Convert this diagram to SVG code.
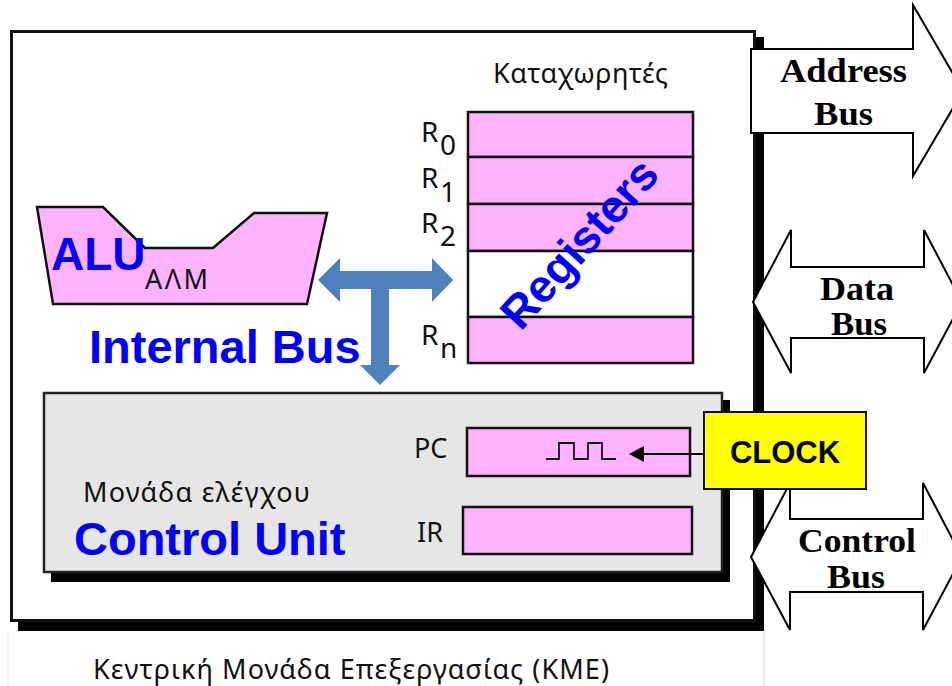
<svg xmlns="http://www.w3.org/2000/svg" width="952" height="686" viewBox="0 0 952 686">
<style>
.sh{fill:#000}
.pink{fill:#ffb3ff;stroke:#111;stroke-width:2.5}
.gr{font-family:"Noto Sans","Open Sans","DejaVu Sans",sans-serif;fill:#111}
.blue{font-family:"Liberation Sans",Arial,sans-serif;font-weight:bold;fill:#0000ff}
.serif{font-family:"Liberation Serif","Times New Roman",serif;font-weight:bold;fill:#000;font-size:33px}
.busarrow{fill:#fff;stroke:#000;stroke-width:2}
</style>
<rect x="0" y="0" width="952" height="686" fill="#fff"/>
<line x1="764" y1="630" x2="764" y2="686" stroke="#cfcfcf" stroke-width="1"/>
<line x1="8" y1="632" x2="8" y2="686" stroke="#ececec" stroke-width="1"/>

<g id="cpu-frame">
  <rect class="sh" x="18" y="37" width="746" height="594"/>
  <rect x="11.5" y="31.5" width="743" height="589" fill="#fff" stroke="#111" stroke-width="3"/>
</g>

<g id="alu">
  <polygon class="pink" points="37,207 103,207 145,248 213,248 254,213 327,213 307,304 53,304"/>
  <text class="blue" x="51" y="270" font-size="46">ALU</text>
  <text class="gr" x="145" y="289" font-size="27" textLength="63">ΑΛΜ</text>
</g>

<g id="registers">
  <text class="gr" x="493" y="83" font-size="27" textLength="175">Καταχωρητές</text>
  <rect class="pink" x="468" y="112" width="225" height="45"/>
  <rect class="pink" x="468" y="157" width="225" height="47"/>
  <rect class="pink" x="468" y="204" width="225" height="47"/>
  <rect x="468" y="251" width="225" height="66" fill="#fff" stroke="#111" stroke-width="2.5"/>
  <rect class="pink" x="468" y="317" width="225" height="46"/>
  <g class="gr" font-size="28">
    <text x="421" y="142">R</text><text x="440" y="155">0</text>
    <text x="421" y="188">R</text><text x="440" y="202">1</text>
    <text x="421" y="233">R</text><text x="440" y="246">2</text>
    <text x="421" y="345">R</text><text x="440" y="358">n</text>
  </g>
  <text class="blue" x="591" y="254" font-size="46" text-anchor="middle" transform="rotate(-48 591 254)">Registers</text>
</g>

<text class="blue" x="89" y="363" font-size="47">Internal Bus</text>

<g id="control-unit">
  <rect class="sh" x="51" y="400" width="679" height="182"/>
  <rect x="44" y="393" width="678" height="179" fill="#e6e6e6" stroke="#222" stroke-width="2.5"/>
  <text class="gr" x="83" y="502" font-size="27" textLength="227">Μονάδα ελέγχου</text>
  <text class="blue" x="74" y="555" font-size="47">Control Unit</text>
</g>

<g id="pc">
  <text class="gr" x="414" y="458" font-size="27">PC</text>
  <rect class="pink" x="467" y="428" width="223" height="48"/>
  <polyline points="546,459 559,459 559,443 574,443 574,459 588,459 588,443 602,443 602,459 616,459" fill="none" stroke="#111" stroke-width="1.8"/>
</g>

<g id="ir">
  <text class="gr" x="417" y="542" font-size="27">IR</text>
  <rect class="pink" x="463" y="507" width="229" height="47"/>
</g>

<g id="connectors">
  <polygon id="internal-bus" fill="#4f81bd" points="318,280 340,258 340,271 432,271 432,258 453,280 432,302 432,289 389,289 389,365 400,365 380,385 360,365 371,365 371,289 340,289 340,302"/>
  <g id="clock-to-pc">
    <line x1="704" y1="454" x2="640" y2="454" stroke="#000" stroke-width="1.8"/>
    <polygon points="629,454 644,446 644,462" fill="#000"/>
  </g>
</g>

<g id="address-bus">
  <polygon class="busarrow" points="751,49 913,49 913,5 963,91 913,176 913,133 751,133"/>
  <text class="serif" x="780" y="82" textLength="127" lengthAdjust="spacingAndGlyphs">Address</text>
  <text class="serif" x="814" y="125" textLength="59" lengthAdjust="spacingAndGlyphs">Bus</text>
</g>

<g id="data-bus">
  <polygon class="busarrow" points="753,302 791,230 791,267 924,267 924,230 962,302 924,373 924,338 791,338 791,373"/>
  <text class="serif" x="820" y="300" textLength="74" lengthAdjust="spacingAndGlyphs">Data</text>
  <text class="serif" x="831" y="335" textLength="56" lengthAdjust="spacingAndGlyphs">Bus</text>
</g>

<g id="control-bus">
  <polygon class="busarrow" points="751,557 790,483 790,519 923,519 923,483 962,557 923,630 923,592 790,592 790,630"/>
  <text class="serif" x="798" y="552" textLength="118" lengthAdjust="spacingAndGlyphs">Control</text>
  <text class="serif" x="827" y="588" textLength="58" lengthAdjust="spacingAndGlyphs">Bus</text>
</g>

<g id="clock">
  <rect x="704" y="412" width="162" height="77" fill="#ffff00" stroke="#111" stroke-width="2"/>
  <text x="785" y="463" font-family="'Liberation Sans',Arial,sans-serif" font-weight="bold" font-size="31" fill="#000" text-anchor="middle">CLOCK</text>
</g>

<text id="title" class="gr" x="93" y="679" font-size="27" textLength="516">Κεντρική Μονάδα Επεξεργασίας (ΚΜΕ)</text>
</svg>
